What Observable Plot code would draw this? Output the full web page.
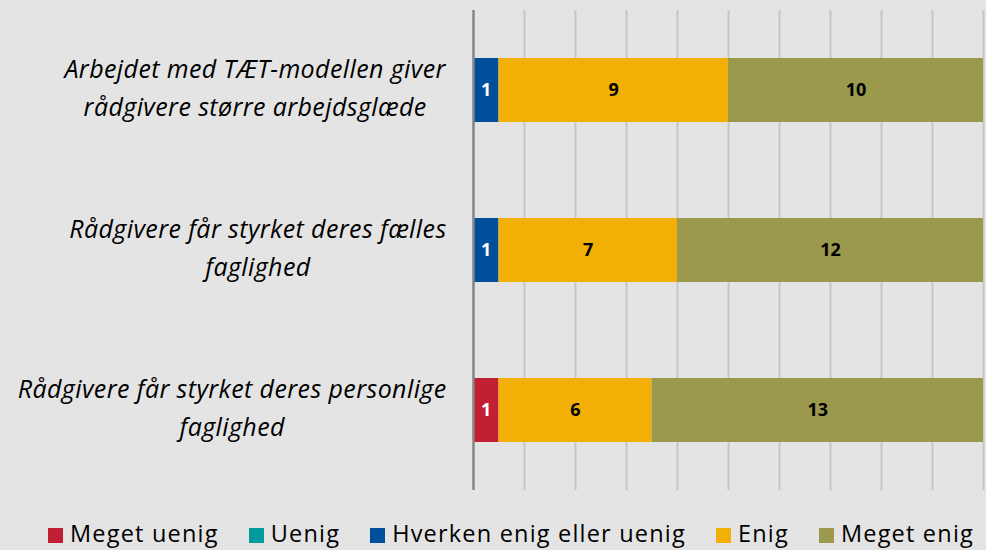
<!DOCTYPE html>
<html>
<head>
<meta charset="utf-8">
<script src="https://cdn.jsdelivr.net/npm/d3@7"></script>
<script src="https://cdn.jsdelivr.net/npm/@observablehq/plot@0.6"></script>
<style>
  html, body { margin: 0; padding: 0; background: #e4e4e4; }
  #wrap { width: 986px; height: 550px; background: #e4e4e4; position: relative; overflow: hidden; }
  #legend { position: absolute; left: 48px; width: 926px; top: 506px; height: 50px; display: flex; align-items: center;
            justify-content: space-between;
            font-family: "Open Sans", sans-serif; font-size: 23.5px; letter-spacing: 1.2px; color: #000; white-space: nowrap; }
  .item { display: flex; align-items: center; }
  .sw { width: 15px; height: 15px; margin-right: 7px; margin-top: 8px; }
  .lab { line-height: 1; margin-top: 6px; }
</style>
</head>
<body>
<div id="wrap"><div id="chart"></div><div id="legend"></div></div>
<script>
const categories = [
  "Arbejdet med TÆT-modellen giver rådgivere større arbejdsglæde",
  "Rådgivere får styrket deres fælles faglighed",
  "Rådgivere får styrket deres personlige faglighed"
];
const categoryLines = [
  "Arbejdet med TÆT-modellen giver\nrådgivere større arbejdsglæde",
  "Rådgivere får styrket deres fælles\nfaglighed",
  "Rådgivere får styrket deres personlige\nfaglighed"
];
const series = ["Meget uenig", "Uenig", "Hverken enig eller uenig", "Enig", "Meget enig"];
const colors = ["#c11f33", "#00999c", "#004f9c", "#f2af05", "#9b9a4c"];
const megetUenig = [0, 0, 1];
const uenig = [0, 0, 0];
const hverken = [1, 1, 0];
const enig = [9, 7, 6];
const megetEnig = [10, 12, 13];
const xTicks = [2, 4, 6, 8, 10, 12, 14, 16, 18, 20];
const whiteLabelSeries = ["Meget uenig", "Hverken enig eller uenig"];

const seriesValues = [megetUenig, uenig, hverken, enig, megetEnig];
const rows = [];
categories.forEach((c, i) => series.forEach((s, j) => {
  if (seriesValues[j][i] > 0) rows.push({cat: c, series: s, value: seriesValues[j][i]});
}));

const stackOpts = {x: "value", y: "cat", z: "series"};

const chart = Plot.plot({
  width: 986, height: 500,
  marginLeft: 473, marginRight: 3, marginTop: 10, marginBottom: 10,
  style: {background: "#e4e4e4", fontFamily: "'Open Sans', sans-serif"},
  x: {domain: [0, 20], axis: null},
  y: {domain: categories, paddingInner: 0.6, paddingOuter: 0.3, axis: null, label: null},
  color: {domain: series, range: colors},
  marks: [
    Plot.ruleX(xTicks, {stroke: "#c6c6c6", strokeWidth: 2}),
    Plot.barX(rows, Plot.stackX({...stackOpts, fill: "series"})),
    Plot.text(rows, Plot.filter(d => whiteLabelSeries.includes(d.series),
      Plot.stackX({...stackOpts, text: "value", fill: "white", fontSize: 18, fontWeight: 700}))),
    Plot.text(rows, Plot.filter(d => !whiteLabelSeries.includes(d.series),
      Plot.stackX({...stackOpts, text: "value", fill: "black", fontSize: 18, fontWeight: 700}))),
    Plot.ruleX([0], {stroke: "#858585", strokeWidth: 2.5}),
    Plot.axisY({
      label: null,
      tickSize: 0, tickPadding: 27, fontSize: 25, fontStyle: "italic", lineHeight: 1.52, dy: -6,
      textAnchor: "end", fill: "#000",
      tickFormat: d => categoryLines[categories.indexOf(d)]
    })
  ]
});
document.getElementById("chart").appendChild(chart);

// centre each multi-line label on its own width, keeping the right edge
chart.querySelectorAll("g[aria-label='y-axis tick label'] text").forEach(t => {
  t.style.letterSpacing = "0.4px";
  const b = t.getBBox();
  const cx = b.x + b.width / 2;
  t.setAttribute("text-anchor", "middle");
  const spans = t.querySelectorAll("tspan");
  if (spans.length) spans.forEach(s => s.setAttribute("x", cx));
  else t.setAttribute("x", cx);
});

const legend = document.getElementById("legend");
series.forEach((s, i) => {
  const it = document.createElement("div");
  it.className = "item";
  it.innerHTML = `<div class="sw" style="background:${colors[i]}"></div><div class="lab">${s}</div>`;
  legend.appendChild(it);
});
</script>
</body>
</html>
